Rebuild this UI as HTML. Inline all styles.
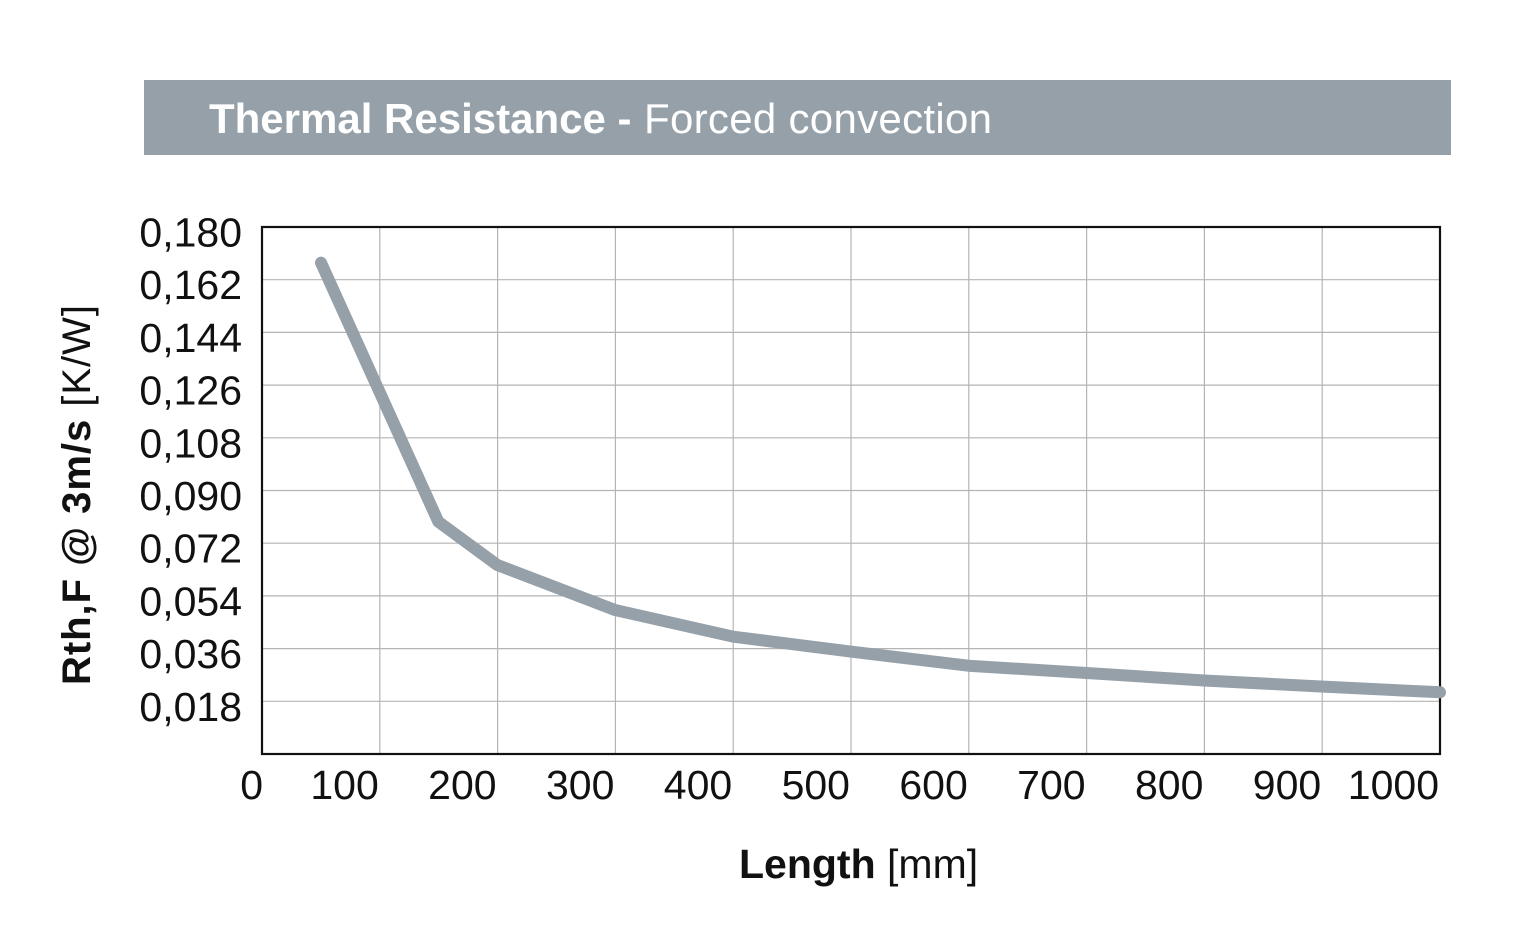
<!DOCTYPE html>
<html>
<head>
<meta charset="utf-8">
<style>
  html, body { margin: 0; padding: 0; background: #ffffff; }
  body { width: 1526px; height: 947px; overflow: hidden; }
  svg { display: block; }
  text { font-family: "Liberation Sans", Arial, Helvetica, sans-serif; }
</style>
</head>
<body>
<svg width="1526" height="947" viewBox="0 0 1526 947" xmlns="http://www.w3.org/2000/svg">
  <rect x="0" y="0" width="1526" height="947" fill="#ffffff"/>

  <!-- Title bar -->
  <rect x="144" y="80" width="1307" height="75" fill="#95a0a9"/>
  <text y="133" font-size="42" fill="#ffffff">
    <tspan x="209" font-weight="bold">Thermal Resistance -</tspan>
    <tspan x="644" font-weight="normal" textLength="348" lengthAdjust="spacing">Forced convection</tspan>
  </text>

  <!-- Grid -->
  <g stroke="#b4b4b4" stroke-width="1.2" fill="none">
    <line x1="379.8" y1="227" x2="379.8" y2="754"/>
    <line x1="497.6" y1="227" x2="497.6" y2="754"/>
    <line x1="615.4" y1="227" x2="615.4" y2="754"/>
    <line x1="733.2" y1="227" x2="733.2" y2="754"/>
    <line x1="851" y1="227" x2="851" y2="754"/>
    <line x1="968.8" y1="227" x2="968.8" y2="754"/>
    <line x1="1086.6" y1="227" x2="1086.6" y2="754"/>
    <line x1="1204.4" y1="227" x2="1204.4" y2="754"/>
    <line x1="1322.2" y1="227" x2="1322.2" y2="754"/>

    <line x1="262" y1="701.3" x2="1440" y2="701.3"/>
    <line x1="262" y1="648.6" x2="1440" y2="648.6"/>
    <line x1="262" y1="595.9" x2="1440" y2="595.9"/>
    <line x1="262" y1="543.2" x2="1440" y2="543.2"/>
    <line x1="262" y1="490.5" x2="1440" y2="490.5"/>
    <line x1="262" y1="437.8" x2="1440" y2="437.8"/>
    <line x1="262" y1="385.1" x2="1440" y2="385.1"/>
    <line x1="262" y1="332.4" x2="1440" y2="332.4"/>
    <line x1="262" y1="279.7" x2="1440" y2="279.7"/>
  </g>

  <!-- Frame -->
  <rect x="262" y="227" width="1178" height="527" fill="none" stroke="#111111" stroke-width="2.2"/>

  <!-- Y tick labels -->
  <g font-size="41" fill="#111111" text-anchor="end">
    <text x="242" y="246.5">0,180</text>
    <text x="242" y="299.2">0,162</text>
    <text x="242" y="351.9">0,144</text>
    <text x="242" y="404.6">0,126</text>
    <text x="242" y="457.3">0,108</text>
    <text x="242" y="510">0,090</text>
    <text x="242" y="562.7">0,072</text>
    <text x="242" y="615.4">0,054</text>
    <text x="242" y="668.1">0,036</text>
    <text x="242" y="720.8">0,018</text>
  </g>

  <!-- X tick labels -->
  <g font-size="41" fill="#111111" text-anchor="end">
    <text x="263" y="799">0</text>
    <text x="378.8" y="799">100</text>
    <text x="496.6" y="799">200</text>
    <text x="614.4" y="799">300</text>
    <text x="732.2" y="799">400</text>
    <text x="850" y="799">500</text>
    <text x="967.8" y="799">600</text>
    <text x="1085.6" y="799">700</text>
    <text x="1203.4" y="799">800</text>
    <text x="1321.2" y="799">900</text>
    <text x="1439" y="799">1000</text>
  </g>

  <!-- X axis title -->
  <text x="739" y="878" font-size="41" fill="#111111"><tspan font-weight="bold">Length</tspan> [mm]</text>

  <!-- Y axis title -->
  <text transform="translate(90,495) rotate(-90)" text-anchor="middle" font-size="40" fill="#111111" textLength="380" lengthAdjust="spacing"><tspan font-weight="bold">Rth,F @ 3m/s</tspan> [K/W]</text>

  <!-- Data curve -->
  <polyline fill="none" stroke="#95a0a9" stroke-width="12" stroke-linecap="round" stroke-linejoin="round"
    points="321,262.7 438.3,521.7 497.3,565 615,610 733.3,636.7 851.7,651.7 968.3,665.7 1086.7,673 1204,680.5 1321,686.5 1440,692.3"/>
</svg>
</body>
</html>
